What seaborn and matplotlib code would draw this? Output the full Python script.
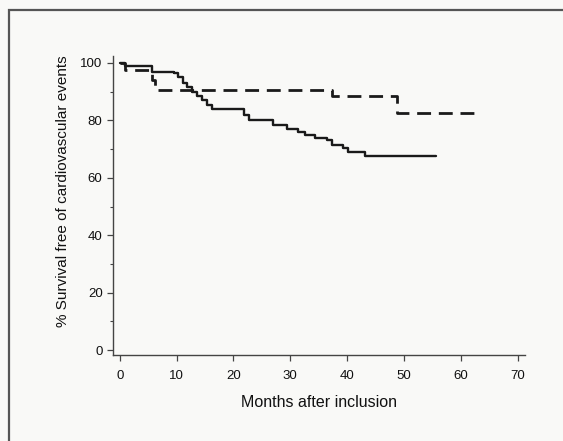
import matplotlib
matplotlib.use("Agg")
import matplotlib.pyplot as plt
from matplotlib.patches import Rectangle
from matplotlib.ticker import MultipleLocator
import pandas as pd
import seaborn as sns

# Kaplan-Meier steps (months, % event free)
solid_months = [0, 0.9, 5.6, 9.5, 10.3, 11.1, 11.9, 12.7, 13.5, 14.4, 15.3, 16.3,
                21.9, 22.8, 26.9, 29.5, 31.3, 32.5, 34.3, 36.4, 37.3, 39.2, 40.1,
                43.1, 55.7]
solid_surv = [100, 99, 97, 96.5, 95, 93, 91.5, 90, 88.5, 87, 85.5, 84,
              82, 80, 78.5, 77, 76, 75, 74, 73, 71.5, 70.5, 69,
              67.5, 67.5]
dashed_months = [0, 0.9, 5.6, 6.2, 37.4, 48.7, 63.3]
dashed_surv = [100, 97.5, 94, 90.5, 88.5, 82.5, 82.5]

x_ticks = [0, 10, 20, 30, 40, 50, 60, 70]
y_ticks = [0, 20, 40, 60, 80, 100]

sns.set_style("ticks")
plt.rcParams["font.family"] = ["Liberation Sans", "DejaVu Sans"]

solid = pd.DataFrame({"months": solid_months, "surv": solid_surv})
dashed = pd.DataFrame({"months": dashed_months, "surv": dashed_surv})

fig = plt.figure(figsize=(5.63, 4.41), dpi=100, facecolor="#f9f9f7")
ax = fig.add_axes([0.2007, 0.195, 0.7318, 0.6785])
ax.set_facecolor("#f9f9f7")

sns.lineplot(data=solid, x="months", y="surv", ax=ax, color="#1a1a1a",
             linewidth=1.7, drawstyle="steps-post", estimator=None, sort=False)
sns.lineplot(data=dashed, x="months", y="surv", ax=ax, color="#1a1a1a",
             linewidth=2.0, drawstyle="steps-post", estimator=None, sort=False,
             dashes=False)
ax.lines[-1].set_dashes((5.0, 2.8))

ax.set_xlim(-1.2, 71.3)
ax.set_ylim(-1.7, 102.5)
ax.set_xticks(x_ticks)
ax.set_yticks(y_ticks)
ax.yaxis.set_minor_locator(MultipleLocator(10))
ax.tick_params(axis="both", which="major", labelsize=9.5, length=4,
               width=0.9, color="#444", labelcolor="#111")
ax.tick_params(axis="x", which="major", pad=7)
ax.tick_params(axis="y", which="minor", length=2.5, width=0.8, color="#444")

for side in ["top", "right"]:
    ax.spines[side].set_visible(False)
for side in ["left", "bottom"]:
    ax.spines[side].set_color("#444")
    ax.spines[side].set_linewidth(1.0)

ax.set_xlabel("Months after inclusion", fontsize=11.5, color="#111")
ax.set_ylabel("% Survival free of cardiovascular events", fontsize=11,
              color="#111")
ax.yaxis.set_label_coords(-0.105, 0.548)
ax.xaxis.set_label_coords(0.5, -0.135)

# frame of the scanned figure
fig.patches.append(Rectangle((9 / 563, -0.05), 1.0, 1 - 10 / 441 + 0.05,
                             transform=fig.transFigure, fill=False,
                             edgecolor="#555", linewidth=1.6))

fig.savefig("out.png", dpi=100, facecolor=fig.get_facecolor())
